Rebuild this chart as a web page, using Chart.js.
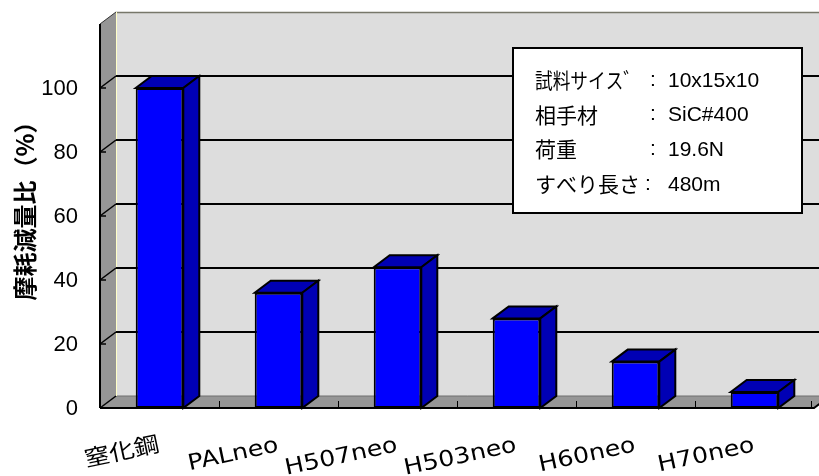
<!DOCTYPE html>
<html>
<head>
<meta charset="utf-8">
<script src="https://cdn.jsdelivr.net/npm/chart.js@4.4.0/dist/chart.umd.min.js"></script>
<style>
  body { margin: 0; background: #fff; }
  canvas { display: block; }
</style>
</head>
<body>
<canvas id="wearChart" width="819" height="476"></canvas>
<script>
// data
const categories = ['窒化鋼', 'PALneo', 'H507neo', 'H503neo', 'H60neo', 'H70neo'];
const wearRatio = [100, 36, 44, 28, 14.5, 5];
const yTicks = [0, 20, 40, 60, 80, 100];
const yTitle = '摩耗減量比（%）';
const noteKeys = ['試料サイス゛', '相手材', '荷重', 'すべり長さ'];
const noteVals = ['10x15x10', 'SiC#400', '19.6N', '480m'];

const DX = 16, DY = -12; // 3d depth offset

function line(ctx, pts, color, w) {
    ctx.beginPath();
    ctx.moveTo(pts[0][0], pts[0][1]);
    for (let i = 1; i < pts.length; i++) ctx.lineTo(pts[i][0], pts[i][1]);
    ctx.strokeStyle = color;
    ctx.lineWidth = w;
    ctx.stroke();
}

function poly(ctx, pts, fill, stroke, w) {
    ctx.beginPath();
    ctx.moveTo(pts[0][0], pts[0][1]);
    for (let i = 1; i < pts.length; i++) ctx.lineTo(pts[i][0], pts[i][1]);
    ctx.closePath();
    ctx.fillStyle = fill;
    ctx.fill();
    if (stroke) {
        ctx.strokeStyle = stroke;
        ctx.lineWidth = w;
        ctx.lineJoin = 'miter';
        ctx.stroke();
    }
}

const box3d = {
    id: 'box3d',
    beforeDatasetsDraw(chart) {
        const ctx = chart.ctx;
        const { left: L, right: R, top: T, bottom: B } = chart.chartArea;
        const W = chart.width;
        const y = chart.scales.y;
        const x = chart.scales.x;
        ctx.save();
        // back wall
        ctx.fillStyle = '#dddddd';
        ctx.fillRect(L + DX, T + DY, W - L - DX, B - T);
        line(ctx, [[L + DX, T + DY + 0.5], [W, T + DY + 0.5]], '#77776a', 1.5);
        // left wall
        poly(ctx, [[L, T], [L + DX, T + DY], [L + DX, B + DY], [L, B]], '#969696');
        // floor
        poly(ctx, [[L, B], [R, B], [R + DX, B + DY], [W + 40, B + DY], [L + DX, B + DY]], '#969696');
        line(ctx, [[L + DX, B + DY], [W, B + DY]], '#6e6e6e', 1);
        // pale edge of back wall
        line(ctx, [[L + DX + 0.5, T + DY], [L + DX + 0.5, B + DY]], '#ffffc8', 1);
        // gridlines
        yTicks.forEach(v => {
            const py = y.getPixelForValue(v);
            if (v > 0) line(ctx, [[L + DX, py + DY], [W, py + DY]], '#000', 2);
            line(ctx, [[L, py], [L + DX, py + DY]], '#000', 1.5);
            line(ctx, [[L, py], [L + 6, py]], '#000', 1.5);
        });
        // axis edges
        line(ctx, [[L, T], [L + DX, T + DY]], '#333', 1);
        line(ctx, [[L, T], [L, B]], '#000', 2);
        line(ctx, [[L, B], [R, B], [R + DX, B + DY]], '#000', 2);
        // category ticks on the floor
        for (let i = 1; i <= categories.length; i++) {
            const px = Math.round((x.getPixelForValue(i - 1) + x.getPixelForValue(Math.min(i, categories.length - 1)) ) / 2);
            const bx = i === categories.length ? R - 3 : px;
            line(ctx, [[bx + 0.5, B - 7], [bx + 0.5, B]], '#000', 1);
        }
        ctx.restore();
    },
    afterDatasetsDraw(chart) {
        const ctx = chart.ctx;
        const meta = chart.getDatasetMeta(0);
        ctx.save();
        meta.data.forEach(bar => {
            const p = bar.getProps(['x', 'y', 'base', 'width'], true);
            const l = p.x - p.width / 2, r = p.x + p.width / 2;
            poly(ctx, [[l, p.y], [l + DX, p.y + DY], [r + DX, p.y + DY], [r, p.y]], '#0000b4', '#000', 2);
            poly(ctx, [[r, p.y], [r + DX, p.y + DY], [r + DX, p.base + DY], [r, p.base]], '#0000b4', '#000', 2);
        });
        ctx.restore();
    },
    afterDraw(chart) {
        const ctx = chart.ctx;
        const { left: L } = chart.chartArea;
        const y = chart.scales.y;
        const x = chart.scales.x;
        ctx.save();
        ctx.fillStyle = '#000';
        // y tick labels
        ctx.font = '22px "Liberation Sans", Arial, sans-serif';
        ctx.textAlign = 'right';
        ctx.textBaseline = 'middle';
        yTicks.forEach(v => ctx.fillText(String(v), L - 22, y.getPixelForValue(v) + 1));
        // y title
        ctx.save();
        ctx.translate(25, 205);
        ctx.rotate(-Math.PI / 2);
        ctx.font = 'bold 24px "Noto Sans CJK JP", sans-serif';
        ctx.textAlign = 'center';
        ctx.fillText(yTitle, 0, 0);
        ctx.restore();
        // x labels, tilted and a bit wide
        ctx.font = '22px "DejaVu Sans", "Noto Sans CJK JP", sans-serif';
        ctx.textAlign = 'right';
        ctx.textBaseline = 'alphabetic';
        categories.forEach((c, i) => {
            ctx.save();
            ctx.translate(x.getPixelForValue(i) + 1, 451);
            ctx.rotate(-12 * Math.PI / 180);
            ctx.scale(1.15, 1);
            ctx.fillText(c, 0, 0);
            ctx.restore();
        });
        // condition box
        ctx.fillStyle = '#fff';
        ctx.fillRect(513, 48, 289, 165);
        ctx.strokeStyle = '#000';
        ctx.lineWidth = 2;
        ctx.strokeRect(513, 48, 289, 165);
        ctx.fillStyle = '#000';
        ctx.textAlign = 'left';
        ctx.textBaseline = 'middle';
        noteKeys.forEach((k, i) => {
            const ty = 80 + i * 34.7;
            ctx.font = '21px "Noto Sans CJK JP", sans-serif';
            ctx.fillText(k, 535, ty, 106);
            ctx.font = '21px "Liberation Sans", Arial, sans-serif';
            ctx.fillText(':', i === 3 ? 645 : 650, ty);
            ctx.fillText(noteVals[i], 668, ty + 1);
        });
        ctx.restore();
    }
};

new Chart(document.getElementById('wearChart'), {
    type: 'bar',
    data: {
        labels: categories,
        datasets: [{
            data: wearRatio,
            backgroundColor: '#0000ff',
            borderColor: '#000',
            borderWidth: 2,
            borderSkipped: false,
            barPercentage: 0.4,
            categoryPercentage: 1
        }]
    },
    options: {
        responsive: false,
        animation: false,
        layout: { padding: { left: 100, right: 5, top: 24, bottom: 68 } },
        scales: {
            x: { display: false },
            y: { display: false, min: 0, max: 120, ticks: { stepSize: 20 } }
        },
        plugins: { legend: { display: false }, tooltip: { enabled: false } }
    },
    plugins: [box3d]
});
</script>
</body>
</html>
